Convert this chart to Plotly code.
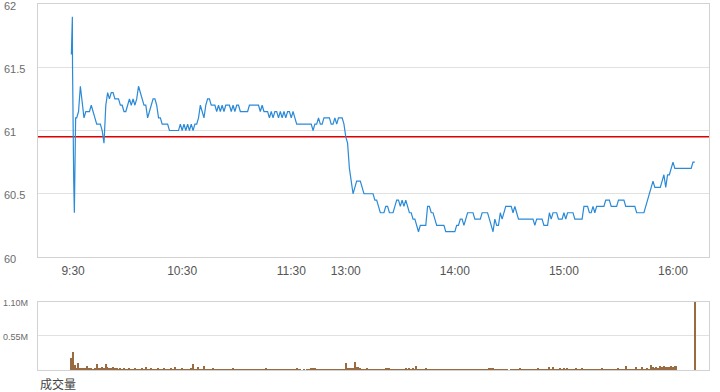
import plotly.graph_objects as go

# ---------------- data ----------------
# time axis: minutes of trading since 9:30 (lunch break removed; 13:00 = 150)
tick_minutes = [0, 60, 120, 150, 210, 270, 330]
tick_labels = ["9:30", "10:30", "11:30", "13:00", "14:00", "15:00", "16:00"]

price_ticks = [60, 60.5, 61, 61.5, 62]
price_tick_labels = ["60", "60.5", "61", "61.5", "62"]
prev_close = 60.95

# opening auction / first-minute ticks
open_minutes = [-0.95, -0.85, -0.4, -0.3, 0.0, 0.35, 0.7, 1.0, 1.4]
open_prices = [61.60, 61.75, 61.90, 61.50, 60.75, 60.60, 60.35, 60.95, 61.10]

# one price per minute from minute 2 to minute 342
minute_prices = [
    61.10, 61.15, 61.35, 61.20, 61.10, 61.15, 61.15, 61.15,            # 2-9
    61.20, 61.15, 61.10, 61.05, 61.05, 61.05, 61.00, 60.90, 61.20, 61.30,  # 10-19
    61.25, 61.30, 61.30, 61.25, 61.25, 61.25, 61.20, 61.20, 61.15, 61.15,  # 20-29
    61.20, 61.25, 61.20, 61.25, 61.20, 61.25, 61.35, 61.30, 61.25, 61.20,  # 30-39
    61.20, 61.10, 61.15, 61.20, 61.25, 61.25, 61.20, 61.10, 61.10, 61.05,  # 40-49
    61.05, 61.05, 61.05, 61.00, 61.00, 61.00, 61.00, 61.00, 61.00, 61.05,  # 50-59
    61.00, 61.05, 61.00, 61.05, 61.00, 61.05, 61.00, 61.05, 61.05, 61.10,  # 60-69
    61.20, 61.15, 61.10, 61.20, 61.25, 61.25, 61.20, 61.20, 61.20, 61.15,  # 70-79
    61.20, 61.15, 61.20, 61.15, 61.20, 61.20, 61.20, 61.15, 61.20, 61.15,  # 80-89
    61.20, 61.20, 61.15, 61.15, 61.15, 61.15, 61.15, 61.20, 61.20, 61.20,  # 90-99
    61.20, 61.20, 61.20, 61.15, 61.20, 61.15, 61.15, 61.15, 61.10, 61.15,  # 100-109
    61.10, 61.15, 61.15, 61.10, 61.15, 61.10, 61.15, 61.10, 61.15, 61.15,  # 110-119
    61.10, 61.15, 61.10, 61.05, 61.05, 61.05, 61.05, 61.05, 61.05, 61.05,  # 120-129
    61.05, 61.05, 61.00, 61.05, 61.05, 61.10, 61.05, 61.05, 61.10, 61.10,  # 130-139
    61.10, 61.10, 61.05, 61.05, 61.10, 61.05, 61.10, 61.10, 61.10, 61.05,  # 140-149
    60.95, 60.90, 60.70, 60.60, 60.50, 60.55, 60.60, 60.60, 60.60, 60.55,  # 150-159
    60.50, 60.50, 60.50, 60.50, 60.50, 60.50, 60.45, 60.45, 60.40, 60.35,  # 160-169
    60.35, 60.35, 60.40, 60.40, 60.35, 60.35, 60.35, 60.40, 60.45, 60.45,  # 170-179
    60.40, 60.45, 60.40, 60.45, 60.40, 60.35, 60.35, 60.30, 60.30, 60.25,  # 180-189
    60.20, 60.25, 60.25, 60.25, 60.25, 60.40, 60.40, 60.35, 60.35, 60.30,  # 190-199
    60.25, 60.25, 60.25, 60.25, 60.25, 60.20, 60.20, 60.20, 60.20, 60.20,  # 200-209
    60.20, 60.25, 60.25, 60.30, 60.30, 60.25, 60.30, 60.35, 60.35, 60.35,  # 210-219
    60.35, 60.30, 60.30, 60.30, 60.30, 60.35, 60.35, 60.35, 60.35, 60.30,  # 220-229
    60.25, 60.20, 60.30, 60.25, 60.25, 60.35, 60.30, 60.35, 60.40, 60.40,  # 230-239
    60.40, 60.40, 60.35, 60.40, 60.35, 60.30, 60.30, 60.30, 60.30, 60.30,  # 240-249
    60.30, 60.30, 60.30, 60.30, 60.25, 60.30, 60.30, 60.30, 60.30, 60.25,  # 250-259
    60.25, 60.25, 60.35, 60.30, 60.35, 60.35, 60.35, 60.30, 60.30, 60.30,  # 260-269
    60.35, 60.30, 60.35, 60.35, 60.35, 60.35, 60.30, 60.30, 60.30, 60.30,  # 270-279
    60.30, 60.40, 60.40, 60.40, 60.35, 60.35, 60.40, 60.35, 60.40, 60.40,  # 280-289
    60.40, 60.40, 60.40, 60.45, 60.45, 60.45, 60.40, 60.40, 60.40, 60.40,  # 290-299
    60.45, 60.45, 60.45, 60.45, 60.40, 60.40, 60.40, 60.40, 60.40, 60.40,  # 300-309
    60.35, 60.35, 60.35, 60.35, 60.35, 60.40, 60.45, 60.50, 60.55, 60.60,  # 310-319
    60.55, 60.55, 60.55, 60.55, 60.60, 60.65, 60.55, 60.65, 60.65, 60.70,  # 320-329
    60.75, 60.70, 60.70, 60.70, 60.70, 60.70, 60.70, 60.70, 60.70, 60.70,  # 330-339
    60.70, 60.75, 60.75,                                                  # 340-342
]
minute_index = list(range(2, 2 + len(minute_prices)))

price_minutes = open_minutes + minute_index
price_values = open_prices + minute_prices

# volume per minute (millions of shares), minute -1 .. 342
volume_m = [
    0.20, 0.29, 0.08, 0.03, 0.11, 0.03, 0.02, 0.03, 0.02, 0.065,
    0.02, 0.02, 0.015, 0.02, 0.09, 0.02, 0.02, 0.055, 0.02, 0.09,
    0.055, 0.03, 0.02, 0.045, 0.03, 0.02, 0.015, 0.03, 0.015, 0.02,
    0.015, 0.015, 0.02, 0.015, 0.015, 0.02, 0.015, 0.015, 0.015, 0.03,
    0.015, 0.05, 0.015, 0.015, 0.02, 0.015, 0.015, 0.015, 0.03, 0.015,
    0.015, 0.02, 0.015, 0.015, 0.015, 0.02, 0.015, 0.05, 0.015, 0.015,
    0.015, 0.02, 0.015, 0.015, 0.015, 0.015, 0.02, 0.09, 0.015, 0.015,
    0.05, 0.015, 0.015, 0.065, 0.015, 0.015, 0.015, 0.015, 0.025, 0.015,
    0.015, 0.015, 0.015, 0.015, 0.015, 0.015, 0.015, 0.015, 0.015, 0.03,
    0.015, 0.015, 0.015, 0.015, 0.015, 0.015, 0.015, 0.015, 0.015, 0.015,
    0.015, 0.015, 0.015, 0.015, 0.015, 0.015, 0.015, 0.03, 0.015, 0.015,
    0.015, 0.015, 0.015, 0.015, 0.015, 0.015, 0.015, 0.015, 0.015, 0.015,
    0.015, 0.015, 0.015, 0.015, 0.03, 0.015, 0.015, 0.0, 0.012, 0.0,
    0.012, 0.015, 0.035, 0.035, 0.03, 0.015, 0.015, 0.015, 0.015, 0.015,
    0.015, 0.015, 0.015, 0.015, 0.015, 0.015, 0.015, 0.015, 0.015, 0.015,
    0.015, 0.11, 0.03, 0.04, 0.04, 0.03, 0.13, 0.045, 0.045, 0.04,
    0.015, 0.015, 0.015, 0.03, 0.015, 0.015, 0.015, 0.015, 0.015, 0.015,
    0.015, 0.015, 0.015, 0.035, 0.035, 0.035, 0.015, 0.015, 0.015, 0.015,
    0.015, 0.015, 0.015, 0.015, 0.035, 0.015, 0.035, 0.015, 0.035, 0.015,
    0.065, 0.015, 0.015, 0.015, 0.015, 0.035, 0.015, 0.015, 0.015, 0.015,
    0.015, 0.015, 0.015, 0.015, 0.015, 0.015, 0.015, 0.015, 0.015, 0.015,
    0.015, 0.015, 0.015, 0.015, 0.015, 0.015, 0.015, 0.015, 0.015, 0.015,
    0.015, 0.015, 0.015, 0.015, 0.015, 0.015, 0.015, 0.015, 0.015, 0.015,
    0.04, 0.04, 0.04, 0.015, 0.015, 0.015, 0.015, 0.015, 0.015, 0.015,
    0.015, 0.0, 0.015, 0.015, 0.015, 0.015, 0.015, 0.035, 0.015, 0.015,
    0.015, 0.015, 0.015, 0.015, 0.015, 0.015, 0.015, 0.035, 0.015, 0.015,
    0.015, 0.015, 0.015, 0.05, 0.015, 0.045, 0.015, 0.015, 0.015, 0.035,
    0.015, 0.035, 0.015, 0.035, 0.015, 0.015, 0.015, 0.015, 0.035, 0.015,
    0.015, 0.04, 0.015, 0.015, 0.015, 0.015, 0.015, 0.015, 0.015, 0.015,
    0.015, 0.015, 0.035, 0.015, 0.015, 0.015, 0.015, 0.015, 0.015, 0.015,
    0.015, 0.035, 0.015, 0.015, 0.015, 0.065, 0.015, 0.015, 0.015, 0.015,
    0.015, 0.05, 0.015, 0.015, 0.05, 0.015, 0.015, 0.04, 0.015, 0.087,
    0.05, 0.02, 0.055, 0.02, 0.065, 0.05, 0.06, 0.05, 0.055, 0.05,
    0.06, 0.055, 0.065, 0.06, 0.0, 0.0, 0.0, 0.0, 0.0, 0.0,
    0.0, 0.0, 0.0, 1.10,
]
volume_minutes = list(range(-1, -1 + len(volume_m)))
volume_ticks = [0.55, 1.10]
volume_tick_labels = ["0.55M", "1.10M"]
volume_title = "成交量"

x_range = [-19.3, 349.8]

# ---------------- figure ----------------
FONT = "Liberation Sans, Arial, sans-serif"
GRID = "#e1e1e1"
LINE = "#d2d2d2"

fig = go.Figure()
fig.add_trace(go.Scatter(
    x=price_minutes, y=price_values, mode="lines",
    line=dict(color="#2a8ad8", width=1.2),
    xaxis="x", yaxis="y", hoverinfo="skip", showlegend=False,
))
fig.add_trace(go.Bar(
    x=volume_minutes, y=volume_m, width=0.75,
    marker=dict(color="#9a6a40", line=dict(width=0)),
    xaxis="x2", yaxis="y2", hoverinfo="skip", showlegend=False,
))

fig.add_shape(type="line", xref="paper", x0=0, x1=1, yref="y",
              y0=prev_close, y1=prev_close,
              line=dict(color="#e00000", width=1.5), layer="below")

annotations = []
for v, lab in zip(price_ticks, price_tick_labels):
    annotations.append(dict(
        xref="paper", x=0, xshift=-36, xanchor="left",
        yref="y", y=v, yshift=-1.5, yanchor="middle",
        text=lab, showarrow=False,
        font=dict(family=FONT, size=11, color="#6b6b6b"),
    ))
for v, lab in zip(volume_ticks, volume_tick_labels):
    annotations.append(dict(
        xref="paper", x=0, xshift=-37, xanchor="left",
        yref="y2", y=v, yshift=-1.5, yanchor="middle",
        text=lab, showarrow=False,
        font=dict(family=FONT, size=9, color="#6b6b6b"),
    ))
annotations.append(dict(
    xref="paper", x=0, xanchor="left", yref="paper", y=0, yshift=-3,
    yanchor="top", text=volume_title, showarrow=False,
    font=dict(family="Noto Sans CJK SC, sans-serif", size=12, color="#444"),
))

fig.update_layout(
    width=720, height=392,
    margin=dict(l=38, r=11, t=4, b=22),
    paper_bgcolor="white", plot_bgcolor="white",
    showlegend=False, bargap=0,
    annotations=annotations,
    xaxis=dict(
        domain=[0, 1], range=x_range, anchor="y",
        tickvals=tick_minutes, ticktext=tick_labels,
        tickfont=dict(family=FONT, size=12, color="#555"),
        ticks="outside", ticklen=3, tickcolor="rgba(0,0,0,0)",
        showgrid=False, zeroline=False,
        showline=True, mirror=True, linecolor=LINE, linewidth=1,
    ),
    yaxis=dict(
        domain=[0.3087, 1], range=[60, 62], anchor="x",
        tickvals=price_ticks, showticklabels=False,
        showgrid=True, gridcolor=GRID, gridwidth=1, zeroline=False,
        showline=True, mirror=True, linecolor=LINE, linewidth=1,
    ),
    xaxis2=dict(
        domain=[0, 1], range=x_range, anchor="y2", matches="x",
        showticklabels=False, showgrid=False, zeroline=False,
        showline=True, mirror=True, linecolor=LINE, linewidth=1,
    ),
    yaxis2=dict(
        domain=[0, 0.1858], range=[0, 1.10], anchor="x2",
        tickvals=volume_ticks, showticklabels=False,
        showgrid=True, gridcolor=GRID, gridwidth=1, zeroline=False,
        showline=True, mirror=True, linecolor=LINE, linewidth=1,
    ),
)

fig.write_html("out.html", config={"displayModeBar": False},
               post_script="document.body.style.margin='0px';")
